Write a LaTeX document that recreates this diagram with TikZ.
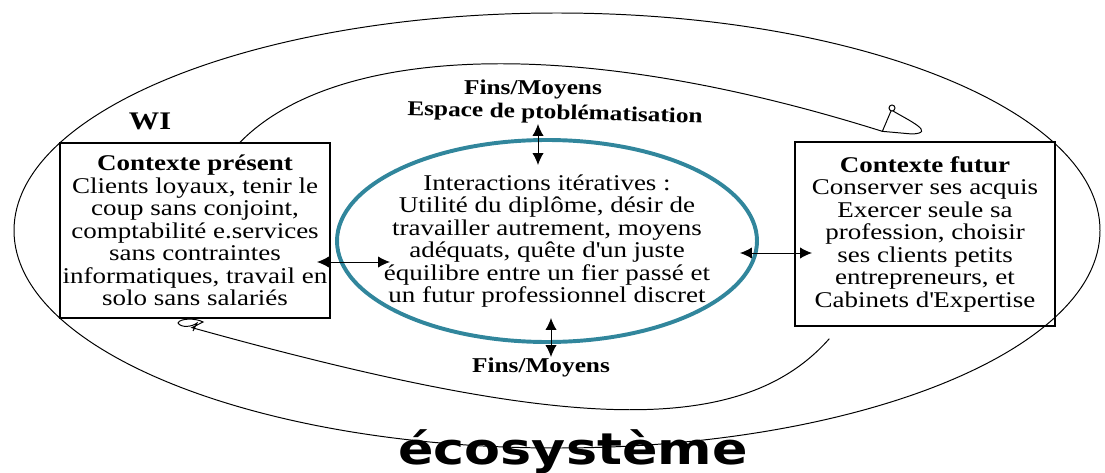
\documentclass[tikz,border=0pt]{standalone}
\usepackage{fontspec}
\setmainfont{Liberation Serif}[FakeStretch=1.2]
\newfontfamily\ecofont{DejaVu Sans}[FakeStretch=1.2]
\usepackage{tikz}
\usetikzlibrary{arrows.meta, positioning, calc}
\definecolor{ringteal}{RGB}{49,134,156}
\tikzset{
	thinline/.style={draw, line width=0.7pt},
	ctxbox/.style={draw, line width=0.9pt, align=center, inner sep=0pt, font=\fontsize{16}{16}\selectfont},
	itertext/.style={align=center, inner sep=0pt, font=\fontsize{16}{16}\selectfont},
	ring/.style={draw=ringteal, line width=2.8pt},
	dbl/.style={{Latex[length=8.5pt,width=8pt]}-{Latex[length=8.5pt,width=8pt]}, line width=0.7pt},
	boldlabel/.style={inner sep=0pt, font=\fontsize{15}{15}\selectfont\bfseries}
}

\begin{document}
\begin{tikzpicture}[x=0.025cm, y=-0.025cm]
	\useasboundingbox (0,0) rectangle (1105,473);
	% ecosysteme
	\draw[thinline] (557,230.5) ellipse [x radius=543, y radius=217.5];
	\node[inner sep=0pt, anchor=base, font=\ecofont\fontsize{31}{31}\selectfont\bfseries] (eco) at (573,464) {écosystème};

	% les deux contextes
	\node[ctxbox, minimum width=6.75cm, minimum height=4.375cm] (ctxp) at (195,230.5)
	{\textbf{Contexte présent}\\
		Clients loyaux, tenir le\\
		coup sans conjoint,\\
		comptabilité e.services\\
		sans contraintes\\
		informatiques, travail en\\
		solo sans salariés};
	\node[ctxbox, minimum width=6.5cm, minimum height=4.6cm] (ctxf) at (925,234)
	{\textbf{Contexte futur}\\
		Conserver ses acquis\\
		Exercer seule sa\\
		profession, choisir\\
		ses clients petits\\
		entrepreneurs, et\\
		Cabinets d\textquotesingle Expertise};

	% interactions
	\node[itertext] (inter) at (547,241)
	{Interactions itératives :\\
		Utilité du diplôme, désir de\\
		travailler autrement, moyens\\
		adéquats, quête d\textquotesingle un juste\\
		équilibre entre un fier passé et\\
		un futur professionnel discret};
	\draw[ring] (inter.center) ellipse [x radius=210, y radius=101];

	\node[inner sep=0pt, font=\fontsize{18}{18}\selectfont\bfseries] (wi) at (150,121) {WI};
	\node[boldlabel] (fmhaut) at (533,89) {Fins/Moyens};
	\node[boldlabel, rotate=-1.5] (espace) at (555,114) {Espace de ptoblématisation};
	\node[boldlabel] (fmbas) at (541,367) {Fins/Moyens};

	% boucle WI
	\coordinate (wiA) at ($(ctxp.north)+(45,0)$);
	\coordinate (wiB) at ($(ctxf.north west)+(88,-10)$);
	\draw[thinline] (wiA) .. controls (330,50) and (560,30) .. (wiB)
		-- (891,111) (892,108) circle [radius=3]
		(893,111) .. controls (910,121) and (936,133) .. (912,134) -- (wiB);
	\coordinate (bsA) at ($(ctxf.south west)+(35,12)$);
	\coordinate (bsB) at ($(ctxp.south)+(-3,9)$);
	\draw[thinline] (bsA) .. controls (740,440) and (560,430) .. (bsB)
		-- (203,322) .. controls (196,318) and (180,318) .. (178,323)
		.. controls (181,328) and (192,327) .. (197,323) -- (193,331);

	% fleches
	\coordinate (gA) at (317,262);
	\coordinate (gB) at (390,262);
	\coordinate (dA) at (740,253);
	\coordinate (dB) at (812,253);
	\coordinate (hA) at (538,124);
	\coordinate (hB) at (538,165);
	\coordinate (bA) at (551,318);
	\coordinate (bB) at (551,357);
	\draw[dbl] (gA) -- (gB);
	\draw[dbl] (dA) -- (dB);
	\draw[dbl] (hA) -- (hB);
	\draw[dbl] (bA) -- (bB);
\end{tikzpicture}
\end{document}
